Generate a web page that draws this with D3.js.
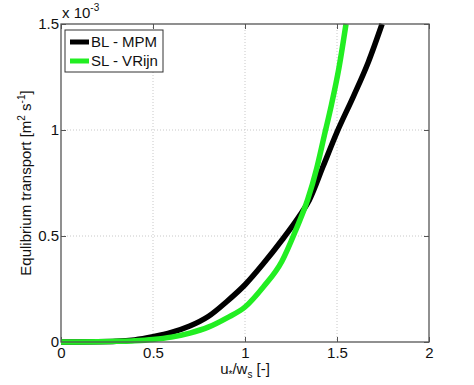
<!DOCTYPE html>
<html>
<head>
	<meta charset="utf-8">
	<style>
		body {
			margin: 0;
			background-color: white;
			font-family: "Liberation Sans", Arial, Helvetica;
		}
		svg {
			display: block;
		}
		.grid line {
			stroke: #c8c8c8;
			stroke-width: 1px;
			stroke-dasharray: 1, 2;
		}
		.axis path {
			display: none;
		}
		.axis line {
			stroke: #555;
		}
		.axis text {
			font-size: 15px;
			fill: #111;
		}
		.frame {
			fill: none;
			stroke: #555;
			stroke-width: 1.3px;
		}
		.curve {
			fill: none;
			stroke-width: 5.5px;
			stroke-linejoin: round;
			stroke-linecap: butt;
		}
		.label {
			font-size: 15px;
			fill: #111;
		}
	</style>
</head>
<body>
<script src="https://d3js.org/d3.v7.min.js"></script>
<script>
	// values in units of 1e-3 m2/s
	var xTicks = [0, 0.5, 1, 1.5, 2];
	var yTicks = [0, 0.5, 1, 1.5];
	var seriesNames = ["BL - MPM", "SL - VRijn"];
	var seriesColors = ["#000000", "#22ee22"];

	var blX = [0, 0.2, 0.3, 0.4, 0.5, 0.6, 0.7, 0.8, 0.9, 1.0, 1.1, 1.2, 1.3, 1.35, 1.425, 1.5, 1.59, 1.67, 1.745];
	var blY = [0, 0.001, 0.003, 0.01, 0.025, 0.045, 0.075, 0.12, 0.19, 0.27, 0.37, 0.48, 0.6, 0.67, 0.83, 0.99, 1.16, 1.32, 1.5];

	var slX = [0, 0.2, 0.3, 0.4, 0.5, 0.6, 0.7, 0.8, 0.9, 1.0, 1.1, 1.2, 1.277, 1.34, 1.39, 1.43, 1.47, 1.51, 1.549];
	var slY = [0, 0.001, 0.003, 0.006, 0.012, 0.023, 0.042, 0.07, 0.113, 0.165, 0.26, 0.38, 0.53, 0.67, 0.82, 0.97, 1.12, 1.29, 1.5];

	var margin = {top: 24, right: 45, bottom: 43, left: 61},
		width = 474 - margin.left - margin.right,
		height = 385 - margin.top - margin.bottom;

	var svg = d3.select("body").append("svg")
			.attr("width", 474)
			.attr("height", 385);
	var g = svg.append("g")
			.attr("transform", "translate(" + margin.left + "," + margin.top + ")");

	var xScale = d3.scaleLinear().domain([0, 2]).range([0, width]);
	var yScale = d3.scaleLinear().domain([0, 1.5]).range([height, 0]);

	// dotted grid
	var grid = g.append("g").attr("class", "grid");
	grid.selectAll(".gx")
			.data(xTicks.slice(1, -1))
		.enter().append("line")
			.attr("x1", function(d) { return xScale(d); })
			.attr("x2", function(d) { return xScale(d); })
			.attr("y1", 0)
			.attr("y2", height);
	grid.selectAll(".gy")
			.data(yTicks.slice(1, -1))
		.enter().append("line")
			.attr("x1", 0)
			.attr("x2", width)
			.attr("y1", function(d) { return yScale(d); })
			.attr("y2", function(d) { return yScale(d); });

	// axes with inward ticks on all sides
	g.append("g")
			.attr("class", "x axis")
			.attr("transform", "translate(0," + height + ")")
			.call(d3.axisBottom(xScale).tickValues(xTicks).tickSize(-5).tickPadding(5).tickFormat(d3.format("")));
	g.append("g")
			.attr("class", "x axis")
			.call(d3.axisTop(xScale).tickValues(xTicks).tickSize(-5).tickFormat(""));
	g.append("g")
			.attr("class", "y axis")
			.call(d3.axisLeft(yScale).tickValues(yTicks).tickSize(-5).tickPadding(2).tickFormat(d3.format("")));
	g.append("g")
			.attr("class", "y axis")
			.attr("transform", "translate(" + width + ",0)")
			.call(d3.axisRight(yScale).tickValues(yTicks).tickSize(-5).tickFormat(""));

	// curves
	var line = d3.line()
			.x(function(d) { return xScale(d[0]); })
			.y(function(d) { return yScale(d[1]); })
			.curve(d3.curveMonotoneX);
	var series = [d3.zip(blX, blY), d3.zip(slX, slY)];
	g.selectAll(".curve")
			.data(series)
		.enter().append("path")
			.attr("class", "curve")
			.attr("stroke", function(d, i) { return seriesColors[i]; })
			.attr("d", line);

	g.append("rect")
			.attr("class", "frame")
			.attr("width", width)
			.attr("height", height);

	// exponent label
	var expo = g.append("text")
			.attr("class", "label")
			.attr("x", 1)
			.attr("y", -6);
	expo.append("tspan").text("x 10");
	expo.append("tspan").attr("dy", -7).style("font-size", "10px").text("-3");

	// legend
	var legend = g.append("g").attr("transform", "translate(4,6)");
	legend.append("rect")
			.attr("width", 98)
			.attr("height", 42)
			.attr("fill", "white")
			.attr("stroke", "#333")
			.attr("stroke-width", 1);
	seriesNames.forEach(function(name, i) {
		var ly = 12 + i * 19;
		legend.append("line")
				.attr("x1", 5).attr("x2", 24)
				.attr("y1", ly).attr("y2", ly)
				.attr("stroke", seriesColors[i])
				.attr("stroke-width", 5);
		legend.append("text")
				.attr("class", "label")
				.attr("x", 26)
				.attr("y", ly + 5)
				.text(name);
	});

	// axis titles
	var xt = svg.append("text")
			.attr("class", "label")
			.attr("text-anchor", "middle")
			.attr("x", margin.left + width / 2)
			.attr("y", 374);
	xt.append("tspan").text("u");
	xt.append("tspan").attr("dy", 4).style("font-size", "10px").text("*");
	xt.append("tspan").attr("dy", -4).text("/w");
	xt.append("tspan").attr("dy", 4).style("font-size", "10px").text("s");
	xt.append("tspan").attr("dy", -4).text(" [-]");

	var yt = svg.append("text")
			.attr("class", "label")
			.attr("text-anchor", "middle")
			.attr("transform", "translate(31," + (margin.top + height / 2) + ") rotate(-90)");
	yt.append("tspan").text("Equlibrium transport [m");
	yt.append("tspan").attr("dy", -6).style("font-size", "10px").text("2");
	yt.append("tspan").attr("dy", 6).text(" s");
	yt.append("tspan").attr("dy", -6).style("font-size", "10px").text("-1");
	yt.append("tspan").attr("dy", 6).text("]");
</script>
</body>
</html>
